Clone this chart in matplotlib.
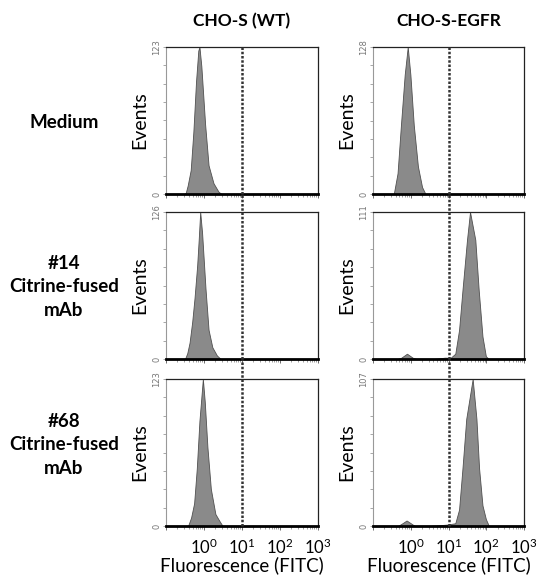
import numpy as np
import matplotlib
matplotlib.use('Agg')
from matplotlib import pyplot as plt

plt.rcParams['font.family'] = ['Lato', 'DejaVu Sans']
plt.rcParams['mathtext.fontset'] = 'custom'
plt.rcParams['mathtext.rm'] = 'Lato'

col_titles = ['CHO-S (WT)', 'CHO-S-EGFR']
row_labels = ['Medium', '#14\nCitrine-fused\nmAb', '#68\nCitrine-fused\nmAb']
decade_labels = ['', '$\\mathrm{10^0}$', '$\\mathrm{10^1}$', '$\\mathrm{10^2}$', '$\\mathrm{10^3}$']
decades = [0.1, 1, 10, 100, 1000]
gate = 10

# y-axis maximum (events) for each panel
wt_ymax = [123, 126, 123]
egfr_ymax = [128, 111, 107]

# histogram outlines: log10(fluorescence) and event counts
wt_medium_logx = [-1.0, -0.52, -0.48, -0.43, -0.35, -0.28, -0.21, -0.15, -0.12, -0.07, 0.03, 0.12, 0.25, 0.38, 0.46, 3.0]
wt_medium_counts = [0, 0, 1, 7, 20, 52, 94, 120, 123, 107, 58, 24, 9, 2, 0, 0]

wt_c14_logx = [-1.0, -0.50, -0.44, -0.38, -0.31, -0.25, -0.18, -0.14, -0.10, -0.05, 0.04, 0.12, 0.22, 0.34, 0.44, 3.0]
wt_c14_counts = [0, 0, 5, 14, 32, 52, 80, 102, 126, 108, 60, 25, 10, 3, 0, 0]

wt_c68_logx = [-1.0, -0.42, -0.34, -0.26, -0.19, -0.12, -0.03, 0.02, 0.09, 0.18, 0.30, 0.41, 0.49, 3.0]
wt_c68_counts = [0, 0, 7, 19, 48, 88, 123, 104, 66, 31, 10, 4, 0, 0]

egfr_medium_logx = [-1.0, -0.45, -0.35, -0.26, -0.16, -0.08, -0.01, 0.08, 0.19, 0.30, 0.39, 3.0]
egfr_medium_counts = [0, 0, 18, 60, 104, 128, 104, 60, 24, 6, 0, 0]

egfr_c14_logx = [-1.0, -0.35, -0.25, -0.15, -0.10, -0.05, 0.05, 0.15, 0.60, 0.90, 1.06, 1.18, 1.28, 1.37,
                 1.49, 1.57, 1.71, 1.80, 1.90, 1.99, 2.07, 3.0]
egfr_c14_counts = [0, 0, 1, 3, 4, 3, 1, 0, 0, 1, 1, 4, 22, 52, 90, 111, 90, 52, 17, 2, 0, 0]

egfr_c68_logx = [-1.0, -0.34, -0.22, -0.11, 0.00, 0.11, 0.50, 0.95, 1.18, 1.28, 1.37, 1.47, 1.64, 1.74,
                 1.81, 1.90, 1.99, 2.07, 3.0]
egfr_c68_counts = [0, 0, 2, 4, 2, 0, 0, 1, 2, 12, 42, 78, 107, 78, 42, 15, 5, 0, 0]

wt_logx = [wt_medium_logx, wt_c14_logx, wt_c68_logx]
wt_counts = [wt_medium_counts, wt_c14_counts, wt_c68_counts]
egfr_logx = [egfr_medium_logx, egfr_c14_logx, egfr_c68_logx]
egfr_counts = [egfr_medium_counts, egfr_c14_counts, egfr_c68_counts]

W, H = 537, 578
fig = plt.figure(figsize=(W / 100, H / 100), dpi=100)

col_x = [166, 373]
col_w = [152, 151]
row_top = [47, 212, 379]
row_h = 147
label_y = [123, 287, 445]


def px_axes(x0, y0, w, h):
    return fig.add_axes([x0 / W, 1 - (y0 + h) / H, w / W, h / H])


for c in range(2):
    logx_list = wt_logx if c == 0 else egfr_logx
    counts_list = wt_counts if c == 0 else egfr_counts
    ymax_list = wt_ymax if c == 0 else egfr_ymax
    for r in range(3):
        ax = px_axes(col_x[c], row_top[r], col_w[c], row_h)
        xs = 10 ** np.array(logx_list[r])
        ax.fill_between(xs, counts_list[r], color='#8a8a8a', edgecolor='#505050', lw=0.6, zorder=2)
        ax.set_xscale('log')
        ax.set_xlim(decades[0], decades[-1])
        ymax = ymax_list[r]
        ax.set_ylim(0, ymax)

        # dotted gate line, joined across the gap to the panel above
        top = 1.0 if r == 0 else 1 + (row_top[r] - row_top[r - 1] - row_h) / row_h
        ax.axvline(gate, ymin=0, ymax=top, color='#333333', lw=1.8,
                   linestyle=(0, (1.0, 0.7)), clip_on=False, zorder=3)

        for side in ['top', 'right']:
            ax.spines[side].set_color('#222222')
            ax.spines[side].set_linewidth(0.9)
        ax.spines['left'].set_color('#999999')
        ax.spines['left'].set_linewidth(0.8)
        ax.spines['bottom'].set_color('black')
        ax.spines['bottom'].set_linewidth(2.0)

        ax.set_yticks([0, ymax])
        ax.set_yticklabels(['0', str(ymax)], rotation=90, fontsize=6, color='#777777',
                           family='DejaVu Sans', va='center')
        ax.set_yticks(np.linspace(0, ymax, 9), minor=True)
        ax.tick_params(axis='y', which='both', direction='out', length=2.5, width=0.6,
                       color='#999999', pad=1)

        ax.set_xticks(decades)
        ax.xaxis.set_minor_formatter(matplotlib.ticker.NullFormatter())
        ax.tick_params(axis='x', which='major', direction='out', length=3, width=0.6, color='#555555')
        ax.tick_params(axis='x', which='minor', direction='out', length=2, width=0.5, color='#777777')
        if r == 2:
            ax.set_xticklabels(decade_labels, fontsize=12)
            ax.tick_params(axis='x', which='major', pad=5)
            ax.set_xlabel('Fluorescence (FITC)', fontsize=13.5, labelpad=0)
        else:
            ax.set_xticklabels([])

        ax.set_ylabel('Events', fontsize=14, labelpad=3)

        if r == 0:
            ax.set_title(col_titles[c], fontsize=12.5, fontweight='bold', pad=15)

for r in range(3):
    fig.text(64 / W, 1 - label_y[r] / H, row_labels[r], ha='center', va='center', fontsize=13.5,
             fontweight='bold', linespacing=1.45)

fig.savefig('out.png', dpi=100)
